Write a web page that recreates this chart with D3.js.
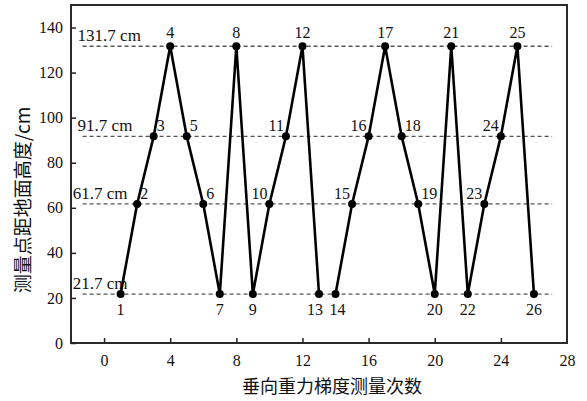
<!DOCTYPE html>
<html><head><meta charset="utf-8">
<script src="https://cdn.jsdelivr.net/npm/d3@7"></script>
<style>
html,body{margin:0;padding:0;background:#fff;}
svg{display:block;}
</style></head>
<body><svg id="c" width="587" height="401"></svg>
<script>
const measureIndex = [1,2,3,4,5,6,7,8,9,10,11,12,13,14,15,16,17,18,19,20,21,22,23,24,25,26];
const heightCm = [21.7,61.7,91.7,131.7,91.7,61.7,21.7,131.7,21.7,61.7,91.7,131.7,21.7,21.7,61.7,91.7,131.7,91.7,61.7,21.7,131.7,21.7,61.7,91.7,131.7,21.7];
// label side per point: a=above, b=below, bl/br=below nudged, r=upper right, l=upper left
const labelSide = ["b","r","r","a","r","r","b","a","b","l","l","a","bl","br","l","l","a","r","r","b","a","b","l","l","a","b"];
// the measurement series is split into two runs (1-13 and 14-26)
const runBreakAfter = 13;
const levels = [21.7,61.7,91.7,131.7];
const levelLabels = ["21.7 cm","61.7 cm","91.7 cm","131.7 cm"];
const xTicks = [0,4,8,12,16,20,24,28];
const yTicks = [0,20,40,60,80,100,120,140];
const xTitle = "垂向重力梯度测量次数";
const yTitle = "测量点距地面高度/cm";

const svg = d3.select("#c");
const L=71, R=567, T=5, B=343;
const x = d3.scaleLinear().domain([-2,28]).range([L,R]);
const y = d3.scaleLinear().domain([0,150]).range([B,T]);
const serif = "'Liberation Serif','Times New Roman',serif";
const cjk = "'Noto Sans CJK SC','Noto Sans CJK JP',sans-serif";

// frame
svg.append("rect").attr("x",L).attr("y",T).attr("width",R-L).attr("height",B-T)
  .attr("fill","none").attr("stroke","#2a2a2a").attr("stroke-width",2);

// axes
const xa = svg.append("g").attr("transform",`translate(0,${B})`)
  .call(d3.axisBottom(x).tickValues(xTicks).tickSizeInner(-5).tickSizeOuter(0).tickPadding(12));
const ya = svg.append("g").attr("transform",`translate(${L},0)`)
  .call(d3.axisLeft(y).tickValues(yTicks).tickSizeInner(-5).tickSizeOuter(0).tickPadding(8));
[xa,ya].forEach(g=>{
  g.select(".domain").remove();
  g.selectAll(".tick line").attr("stroke","#222").attr("stroke-width",1.5);
  g.selectAll(".tick text").attr("font-family",serif).attr("font-size",16).attr("fill","#111");
});
xa.selectAll(".tick").filter(d=>d===28).select("line").remove();

// dashed levels
svg.append("g").selectAll("line").data(levels).join("line")
  .attr("x1",x(-1.3)).attr("x2",x(27.1))
  .attr("y1",d=>y(d)).attr("y2",d=>y(d))
  .attr("stroke","#555").attr("stroke-width",1.3).attr("stroke-dasharray","4,3");
svg.append("g").selectAll("text").data(levels).join("text")
  .attr("x",(d,i)=> (d>80 ? x(-1.6) : x(-1.9)))
  .attr("y",d=>y(d)-5)
  .attr("font-family",serif).attr("font-size",17).attr("fill","#111")
  .text((d,i)=>levelLabels[i]);

// line + points
const pts = measureIndex.map((m,i)=>({m, h:heightCm[i], s:labelSide[i]}));
const runs = [pts.filter(d=>d.m<=runBreakAfter), pts.filter(d=>d.m>runBreakAfter)];
svg.append("g").selectAll("path").data(runs).join("path")
  .attr("d", d3.line().x(d=>x(d.m)).y(d=>y(d.h)))
  .attr("fill","none").attr("stroke","#000").attr("stroke-width",2.6).attr("stroke-linejoin","miter");
svg.append("g").selectAll("circle").data(pts).join("circle")
  .attr("cx",d=>x(d.m)).attr("cy",d=>y(d.h)).attr("r",4).attr("fill","#000");

svg.append("g").selectAll("text").data(pts).join("text")
  .attr("font-family",serif).attr("font-size",16).attr("fill","#111")
  .attr("x",d=> d.s==="r" ? x(d.m)+3 : d.s==="l" ? x(d.m)-2 : d.s==="bl" ? x(d.m)-4 : d.s==="br" ? x(d.m)+2 : x(d.m))
  .attr("y",d=> d.s[0]==="b" ? y(d.h)+21 : d.s==="a" ? y(d.h)-8 : y(d.h)-5)
  .attr("text-anchor",d=> d.s==="r" ? "start" : d.s==="l" ? "end" : "middle")
  .text(d=>d.m);

// titles
svg.append("text").attr("x",332).attr("y",393).attr("text-anchor","middle")
  .attr("font-family",cjk).attr("font-size",18).attr("fill","#111").text(xTitle);
svg.append("text").attr("transform","translate(30,200) rotate(-90)").attr("text-anchor","middle")
  .attr("font-family",cjk).attr("font-size",19).attr("fill","#111").text(yTitle);
</script>
</body></html>
